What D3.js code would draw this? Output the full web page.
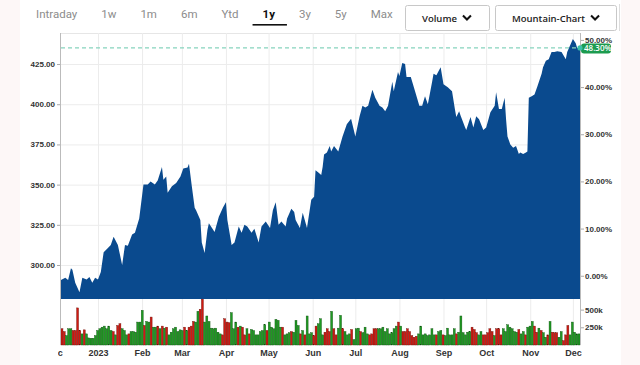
<!DOCTYPE html>
<html>
<head>
<meta charset="UTF-8">
<title>1y mountain chart</title>
<script src="https://d3js.org/d3.v7.min.js"></script>
<style>
    body { margin: 0; background: #fff; }
    svg { display: block; font-family: "Open Sans", Roboto, sans-serif; }
    .tab { font-family: "Liberation Sans Narrow", Roboto, sans-serif; font-size: 11.5px; fill: #8c8c8c; }
    .tab.on { fill: #111; font-weight: bold; }
    .ax text { font-size: 8px; font-weight: 600; fill: #333; }
    .ax.xax text { font-size: 9px; }
    .ax path { display: none; }
    .ax line { stroke: #aaa; }
    .grid line { stroke: #ececec; }
    .grid path, .grid text { display: none; }
    .btn { font-size: 9.5px; font-weight: 600; fill: #222; }
</style>
</head>
<body>
<script>
    var W = 640, H = 365;

    // price series
    var priceDates = ["2022-12-06","2022-12-09","2022-12-11","2022-12-13","2022-12-14","2022-12-16","2022-12-19","2022-12-21","2022-12-24","2022-12-26","2022-12-28","2022-12-30",
        "2023-01-01","2023-01-03","2023-01-05","2023-01-08","2023-01-10","2023-01-12","2023-01-15","2023-01-18","2023-01-20","2023-01-22","2023-01-25","2023-01-27","2023-01-30",
        "2023-02-02","2023-02-05","2023-02-07","2023-02-10","2023-02-12","2023-02-15","2023-02-16","2023-02-18","2023-02-19","2023-02-22","2023-02-25","2023-02-28",
        "2023-03-02","2023-03-05","2023-03-06","2023-03-08","2023-03-10","2023-03-11","2023-03-14","2023-03-15","2023-03-17","2023-03-19","2023-03-20","2023-03-23","2023-03-24","2023-03-27","2023-03-30",
        "2023-04-01","2023-04-02","2023-04-05","2023-04-07","2023-04-10","2023-04-12","2023-04-14","2023-04-16","2023-04-19","2023-04-21","2023-04-24","2023-04-26","2023-04-29",
        "2023-05-02","2023-05-04","2023-05-06","2023-05-08","2023-05-10","2023-05-13","2023-05-14","2023-05-17","2023-05-19","2023-05-20","2023-05-23","2023-05-25","2023-05-28","2023-05-31",
        "2023-06-02","2023-06-03","2023-06-05","2023-06-07","2023-06-08","2023-06-09","2023-06-11","2023-06-13","2023-06-14","2023-06-16","2023-06-19","2023-06-22","2023-06-25","2023-06-28",
        "2023-07-01","2023-07-04","2023-07-06","2023-07-08","2023-07-10","2023-07-13","2023-07-15","2023-07-18","2023-07-20","2023-07-22","2023-07-24","2023-07-27","2023-07-28","2023-07-31",
        "2023-08-01","2023-08-03","2023-08-05","2023-08-06","2023-08-09","2023-08-12","2023-08-15","2023-08-17","2023-08-19","2023-08-21","2023-08-24","2023-08-25","2023-08-27","2023-08-30",
        "2023-09-01","2023-09-04","2023-09-07","2023-09-09","2023-09-10","2023-09-12","2023-09-13","2023-09-16","2023-09-17","2023-09-20","2023-09-22","2023-09-24","2023-09-26","2023-09-29",
        "2023-10-01","2023-10-04","2023-10-07","2023-10-08","2023-10-10","2023-10-12","2023-10-14","2023-10-15","2023-10-16","2023-10-18","2023-10-20","2023-10-22","2023-10-24","2023-10-25","2023-10-27","2023-10-29","2023-10-30","2023-10-31",
        "2023-11-02","2023-11-04","2023-11-06","2023-11-09","2023-11-10","2023-11-12","2023-11-14","2023-11-16","2023-11-18","2023-11-20","2023-11-23","2023-11-26","2023-11-27",
        "2023-12-01","2023-12-03","2023-12-04","2023-12-06"];
    var prices = [290.6,292,290.6,298,297,289,283,292,291,292.5,289,292,
        291,295.6,308,310.6,312.5,317.5,312.5,300,312.5,312,319,320,329,
        350,350,352,350,352.5,361,353,355,345,349,351,355,
        360,360.6,363,349,335.6,334,328,314,307.5,322,326,322,320.6,330,336,
        339,328,312.5,314,324,320,325,324,320,322.5,314,324,327,
        323,334,339,325,327,324,329,335,333,328,323,332.5,323,340.6,
        342.5,359,357.5,356,361,368.75,370,374,370.6,374,370.6,380,387.5,391,
        380,392.5,399,398,399,409,404,399,398,395.6,399,414,408,420,
        417.5,425.6,425,417,417,408,399,399,405,400,414,419,418,423,
        412.5,410.6,408,397,392,395.6,393,386,384,392,385.6,392.5,390.6,384,
        385.6,395,399,407.5,397,397,404,390.6,380,375,373,374,369,370,369,370,370.6,404,
        405,406,411,419,423,427,428,432.5,432.5,433,432.5,428,432.5,
        440.6,438,435,435];
    var basePrice = 293.33;

    // daily volume in thousands, and up/down per bar
    var volumes = [229,190,133,229,229,205,205,524,205,157,214,157,100,95,95,133,205,229,252,267,229,267,205,190,143,276,300,229,205,143,
        157,190,190,181,324,324,490,276,333,324,395,252,252,267,229,267,238,252,143,181,229,252,190,214,205,252,205,252,267,333,
        324,476,505,648,324,410,333,238,229,238,181,157,143,371,324,314,457,229,324,252,267,252,143,229,157,219,205,143,143,190,
        205,286,205,324,252,229,362,348,252,252,143,157,174,190,181,348,276,157,205,143,410,157,174,133,267,300,
        371,143,181,229,190,476,229,143,238,419,229,190,143,157,219,76,229,238,190,174,252,157,143,157,229,229,229,229,252,190,
        229,157,174,229,267,324,267,190,190,229,190,133,110,124,157,267,143,157,133,143,229,143,143,190,205,143,133,238,143,143,
        229,157,181,410,174,143,181,190,252,219,174,143,190,143,143,174,229,190,133,229,229,143,229,190,286,252,229,190,181,219,
        157,190,143,252,267,333,267,181,238,205,174,110,143,333,181,174,174,110,190,62,143,276,143,324,181,157,157];
    var volDir = "rrgggrrrrgrggggggggggggrgrrgggrggggggrggrggrgrgrgggggggrgrrrggrrggggggggrrrrgggrgrrgrgggggggrggggggrgggrgggrgrgggr" +
        "rgggrrrgrrggrgggrgggrgggrrrrgggggggggrgrrrrrrrggggggggrggrgggggrggggggrrrggrrrrrgrrrgggggggrggrgggrrgrggrgrrrggrrr";

    var priceTicks = [300, 325, 350, 375, 400, 425];
    var pctTicks = [0, 10, 20, 30, 40, 50];
    var volTicks = [250, 500];
    var tabs = ["Intraday", "1w", "1m", "6m", "Ytd", "1y", "3y", "5y", "Max"];
    var activeTab = "1y";
    var buttons = ["Volume", "Mountain-Chart"];

    var parse = d3.timeParse("%Y-%m-%d");
    var series = priceDates.map(function (d, i) { return { date: parse(d), price: prices[i] }; });

    var plotL = 61, plotR = 580, plotT = 33, priceBottom = 299, volTop = 299, volBottom = 345;

    var svg = d3.select("body").append("svg").attr("width", W).attr("height", H);

    // faint page edges
    svg.append("rect").attr("x", 0).attr("y", 0).attr("width", 20).attr("height", H).attr("fill", "#fdf7f7");
    svg.append("rect").attr("x", 621).attr("y", 0).attr("width", 19).attr("height", H).attr("fill", "#fdf7f7");

    // tabs
    var cursor = 36;
    tabs.forEach(function (t) {
        var txt = svg.append("text").attr("class", "tab" + (t === activeTab ? " on" : ""))
            .attr("x", cursor).attr("y", 18).text(t);
        var w = txt.node().getComputedTextLength();
        if (t === activeTab) {
            svg.append("rect").attr("x", cursor - 10).attr("y", 24).attr("width", w + 22).attr("height", 1.6).attr("fill", "#111");
        }
        cursor += w + 24;
    });

    // dropdown buttons
    var bx = [405, 495], bw = [84, 121];
    buttons.forEach(function (b, i) {
        svg.append("rect").attr("x", bx[i] + 0.5).attr("y", 5.5).attr("width", bw[i]).attr("height", 25).attr("rx", 2)
            .attr("fill", "#fff").attr("stroke", "#c8c8c8");
        var t = svg.append("text").attr("class", "btn").attr("x", bx[i] + 17).attr("y", 21.5).text(b);
        var cx = bx[i] + 17 + t.node().getComputedTextLength() + 10;
        svg.append("path").attr("d", "M" + (cx - 4) + ",15.5L" + cx + ",19.5L" + (cx + 4) + ",15.5")
            .attr("fill", "none").attr("stroke", "#111").attr("stroke-width", 2);
    });
    svg.append("line").attr("x1", 619.5).attr("x2", 619.5).attr("y1", 4).attr("y2", 31).attr("stroke", "#ddd");

    // scales
    var x = d3.scaleTime().domain([parse("2022-12-06"), parse("2023-12-06")]).range([plotL, plotR]);
    var y = d3.scaleLinear().domain([278.86, 444.3]).range([priceBottom, plotT]);
    var yPct = d3.scaleLinear()
        .domain([(y.domain()[0] / basePrice - 1) * 100, (y.domain()[1] / basePrice - 1) * 100])
        .range([priceBottom, plotT]);
    var yVol = d3.scaleLinear().domain([0, 650]).range([volBottom, volTop]);
    var band = d3.scaleBand().domain(d3.range(volumes.length)).range([plotL, plotR]).paddingInner(0.12);

    var months = d3.timeMonth.range(parse("2022-12-01"), parse("2023-12-07"));

    // grids
    svg.append("g").attr("class", "grid")
        .attr("transform", "translate(" + plotL + ",0)")
        .call(d3.axisLeft(y).tickValues(priceTicks).tickSize(-(plotR - plotL)));
    svg.append("line").attr("x1", plotL).attr("x2", plotR).attr("y1", plotT + 0.5).attr("y2", plotT + 0.5).attr("stroke", "#e6e6e6");
    svg.append("g").attr("class", "grid")
        .attr("transform", "translate(0," + volBottom + ")")
        .call(d3.axisBottom(x).tickValues(months.filter(function (d) { return x(d) > plotL + 1; }))
            .tickSize(-(volBottom - plotT)));

    // mountain
    var area = d3.area()
        .x(function (d) { return x(d.date); })
        .y0(priceBottom)
        .y1(function (d) { return y(d.price); });
    svg.append("path").datum(series).attr("d", area).attr("fill", "#0a4a8e");

    // volume bars
    var colors = { g: "#1f9a22", r: "#cf1a12" }, edges = { g: "#0d4f0f", r: "#6b0f08" };
    svg.append("g").selectAll("rect").data(volumes).enter().append("rect")
        .attr("x", function (d, i) { return band(i); })
        .attr("width", band.bandwidth())
        .attr("y", function (d) { return yVol(d); })
        .attr("height", function (d) { return yVol(0) - yVol(d); })
        .attr("fill", function (d, i) { return colors[volDir[i] || "g"]; })
        .attr("stroke", function (d, i) { return edges[volDir[i] || "g"]; })
        .attr("stroke-width", 0.4);

    // frame lines
    svg.append("line").attr("x1", plotL - 0.5).attr("x2", plotL - 0.5).attr("y1", plotT).attr("y2", volBottom).attr("stroke", "#bbb");
    svg.append("line").attr("x1", plotR + 0.5).attr("x2", plotR + 0.5).attr("y1", plotT).attr("y2", volBottom).attr("stroke", "#bbb");

    // axes
    svg.append("g").attr("class", "ax")
        .attr("transform", "translate(" + (plotL - 1) + ",0)")
        .call(d3.axisLeft(y).tickValues(priceTicks).tickFormat(d3.format(".2f")).tickSize(3).tickPadding(2));
    svg.append("g").attr("class", "ax")
        .attr("transform", "translate(" + (plotR + 1) + ",0)")
        .call(d3.axisRight(yPct).tickValues(pctTicks).tickFormat(function (d) { return d.toFixed(2) + "%"; }).tickSize(3).tickPadding(1));
    svg.append("g").attr("class", "ax")
        .attr("transform", "translate(" + (plotR + 1) + ",0)")
        .call(d3.axisRight(yVol).tickValues(volTicks).tickFormat(function (d) { return d + "k"; }).tickSize(3).tickPadding(1));

    // month labels, the first one cut at the plot's left edge
    svg.append("clipPath").attr("id", "xclip").append("rect")
        .attr("x", 58).attr("y", 0).attr("width", 540).attr("height", 20);
    svg.append("g").attr("class", "ax xax").attr("clip-path", "url(#xclip)")
        .attr("transform", "translate(0," + volBottom + ")")
        .call(d3.axisBottom(x).tickValues(months).tickSize(0).tickPadding(5)
            .tickFormat(function (d) { return d.getMonth() === 0 ? d.getFullYear() : d3.timeFormat("%b")(d); }));

    // last price marker
    var last = series[series.length - 1];
    var ly = y(last.price);
    svg.append("line").attr("x1", plotL).attr("x2", plotR).attr("y1", ly).attr("y2", ly)
        .attr("stroke", "#86d3bd").attr("stroke-width", 1.2).attr("stroke-dasharray", "4,3");
    svg.append("rect").attr("x", plotR + 1).attr("y", ly - 4.5).attr("width", 30).attr("height", 10).attr("rx", 3)
        .attr("fill", "#1c9b4f");
    svg.append("text").attr("x", plotR + 4).attr("y", ly + 3.4)
        .attr("font-size", "8px").attr("font-weight", 600).attr("fill", "#fff")
        .text(((last.price / basePrice - 1) * 100).toFixed(2) + "%");
    svg.append("circle").attr("cx", plotR).attr("cy", ly).attr("r", 2.6).attr("fill", "#3cc0a8");
</script>
</body>
</html>
